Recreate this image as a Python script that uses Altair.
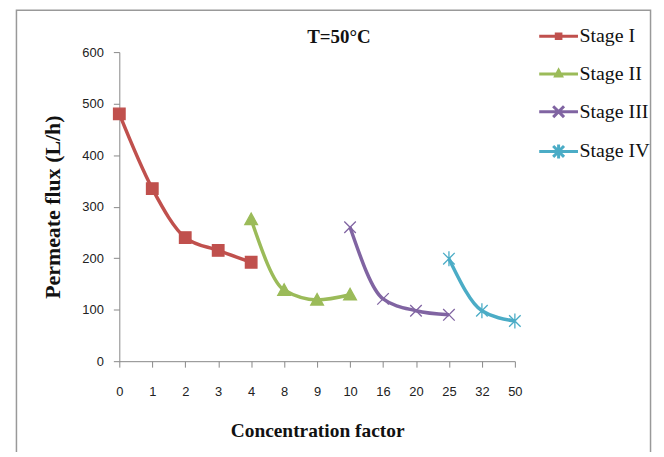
import altair as alt
import pandas as pd

# ---- data ----
x_labels = ["0", "1", "2", "3", "4", "8", "9", "10", "16", "20", "25", "32", "50"]
series_names = ["Stage I", "Stage II", "Stage III", "Stage IV"]

stage1_x = ["0", "1", "2", "3", "4"]
stage1_y = [480, 335, 240, 215, 192]
stage2_x = ["4", "8", "9", "10"]
stage2_y = [275, 138, 119, 129]
stage3_x = ["10", "16", "20", "25"]
stage3_y = [260, 121, 98, 90]
stage4_x = ["25", "32", "50"]
stage4_y = [199, 98, 78]

colors = ["#C0504D", "#9BBB59", "#8064A2", "#4BACC6"]
marker_paths = [
    "M-1,-1H1V1H-1Z",
    "M0,-1.1L1.1,0.9H-1.1Z",
    "M-1,-1L1,1M1,-1L-1,1",
    "M-1,-1L1,1M1,-1L-1,1M0,-1.3V1.3",
]
legend_paths = [
    "M-1,0H1M-0.12,-0.12H0.12V0.12H-0.12Z",
    "M-1,0H1M0,-0.18L0.15,0.1H-0.15Z",
    "M-1,0H1M-0.28,-0.28L0.28,0.28M0.28,-0.28L-0.28,0.28",
    "M-1,0H1M-0.28,-0.28L0.28,0.28M0.28,-0.28L-0.28,0.28M0,-0.36V0.36",
]

rows = []
for name, xs, ys in [
    ("Stage I", stage1_x, stage1_y),
    ("Stage II", stage2_x, stage2_y),
    ("Stage III", stage3_x, stage3_y),
    ("Stage IV", stage4_x, stage4_y),
]:
    for i, (xv, yv) in enumerate(zip(xs, ys)):
        rows.append({"series": name, "cf": xv, "flux": yv, "idx": i})
df = pd.DataFrame(rows)

serif = "Liberation Serif"
sans = "Liberation Sans Narrow, Arial Narrow, Liberation Sans"

x_scale = alt.Scale(domain=x_labels, type="point", padding=0)
y_scale = alt.Scale(domain=[0, 600], nice=False)

x_enc = alt.X(
    "cf:N",
    scale=x_scale,
    sort=x_labels,
    axis=alt.Axis(
        title="Concentration factor",
        labelAngle=0,
        labelFont=sans,
        labelFontSize=13,
        labelColor="#222",
        labelPadding=19,
        tickSize=6,
        tickColor="#888",
        domainColor="#888",
        titleFont=serif,
        titleFontSize=19.5,
        titleFontWeight="bold",
        titleColor="#111",
        titlePadding=23,
    ),
)
y_enc = alt.Y(
    "flux:Q",
    scale=y_scale,
    axis=alt.Axis(
        title="Permeate flux (L/h)",
        values=[0, 100, 200, 300, 400, 500, 600],
        grid=False,
        labelFont=sans,
        labelFontSize=13,
        labelColor="#222",
        labelPadding=10,
        tickSize=6,
        tickColor="#888",
        domainColor="#888",
        titleFont=serif,
        titleFontSize=22,
        titleFontWeight="bold",
        titleColor="#111",
        titlePadding=17,
    ),
)

color_scale = alt.Scale(domain=series_names, range=colors)

one = pd.DataFrame({"a": [0]})

frame = alt.Chart(one).mark_rect(
    fillOpacity=0, stroke="#999", strokeWidth=1.5
).encode(
    x=alt.value(-103.5), x2=alt.value(534.5), y=alt.value(-42), y2=alt.value(420)
)

title_text = alt.Chart(one).mark_text(
    text="T=50°C", font=serif, fontSize=19, fontWeight="bold", color="#111",
    align="center", baseline="alphabetic",
).encode(x=alt.value(221), y=alt.value(-9))

line_layers = []
point_layers = []
for k, (name, col, path) in enumerate(zip(series_names, colors, marker_paths)):
    base = alt.Chart(df).transform_filter(alt.datum.series == name)
    enc_x = x_enc if k == 0 else alt.X("cf:N", scale=x_scale)
    enc_y = y_enc if k == 0 else alt.Y("flux:Q", scale=y_scale)
    line_layers.append(
        base.mark_line(interpolate="monotone", strokeWidth=3.5, color=col)
        .encode(x=enc_x, y=enc_y, order="idx:Q")
    )
    point_layers.append(
        base.mark_point(shape=path, filled=True, size=135, strokeWidth=1.3, opacity=1,
                        fill=col, stroke=col)
        .encode(x=alt.X("cf:N", scale=x_scale), y=alt.Y("flux:Q", scale=y_scale))
    )

legend_spec = alt.Legend(
    title=None,
    orient="none",
    legendX=421,
    legendY=-37,
    symbolSize=1521,
    symbolStrokeWidth=3,
    labelFont=serif,
    labelFontSize=20,
    labelColor="#111",
    labelOffset=0,
    rowPadding=7,
    padding=0,
)
legend_df = pd.DataFrame({"series": series_names})
legend_layer = alt.Chart(legend_df).mark_point(filled=False, opacity=1, strokeWidth=3).encode(
    color=alt.Color("series:N", scale=color_scale, legend=legend_spec),
    shape=alt.Shape("series:N", scale=alt.Scale(domain=series_names, range=legend_paths),
                    legend=legend_spec),
).transform_filter("false")

chart = alt.layer(frame, title_text, *line_layers, *point_layers, legend_layer).properties(
    width=398,
    height=311,
    padding={"left": 112, "top": 43, "right": 142, "bottom": 90},
    autosize=alt.AutoSizeParams(type="none"),
).configure_view(stroke=None)

chart.save("out.html", embed_options={"renderer": "svg", "actions": False})
